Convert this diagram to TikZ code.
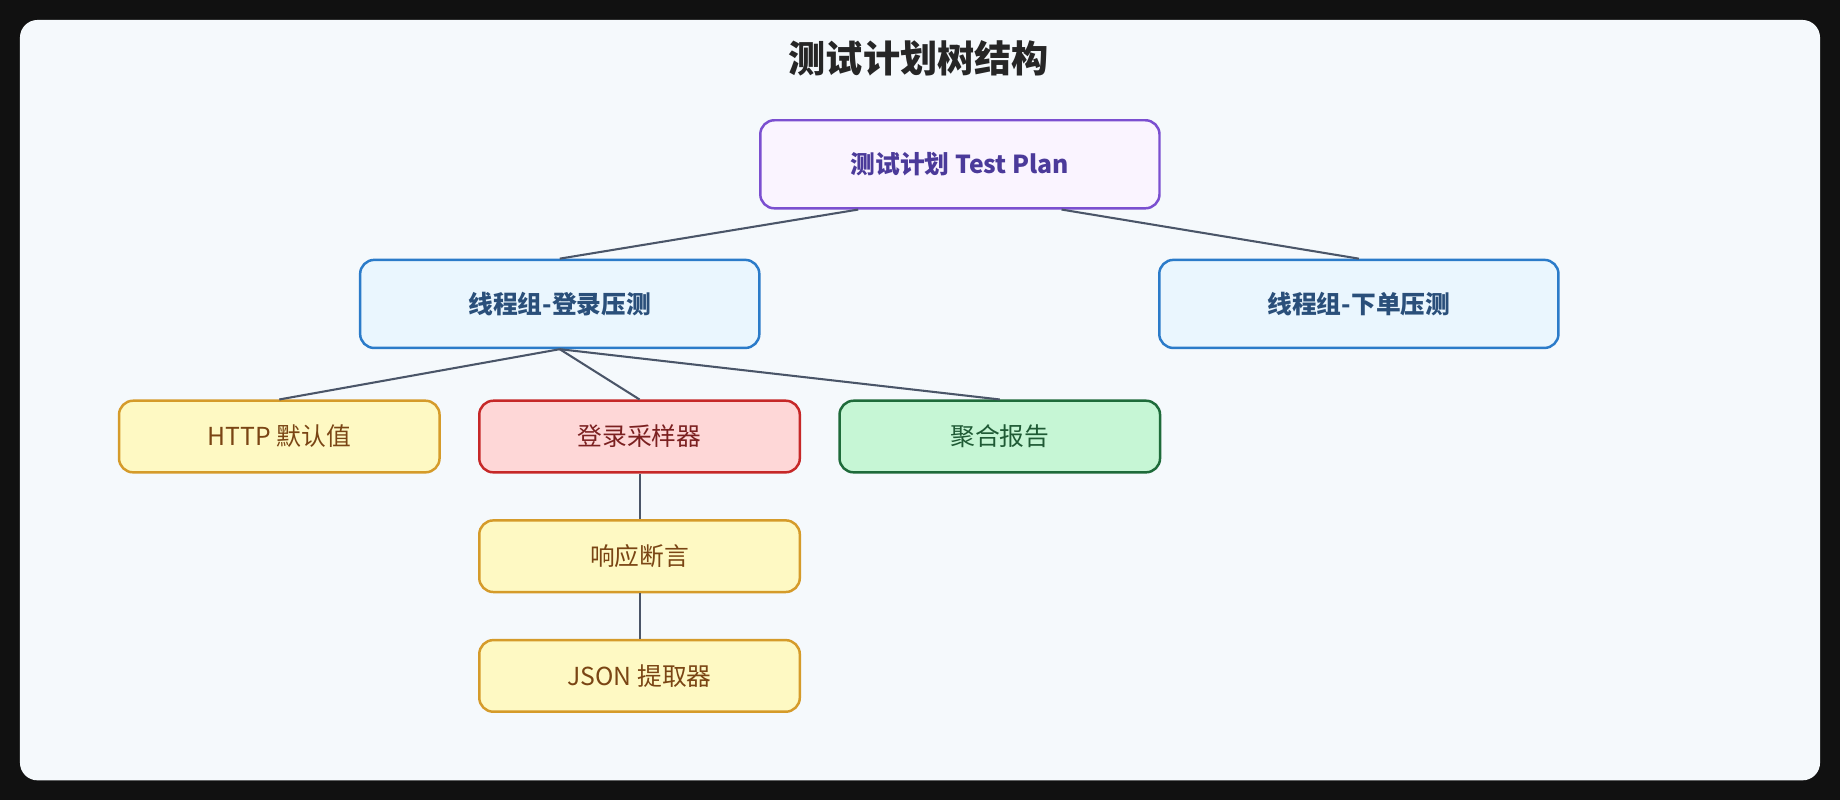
\documentclass[tikz,border=0pt]{standalone}
\usepackage{fontspec}
\setmainfont{Noto Sans CJK SC}
\usetikzlibrary{positioning}
\definecolor{pagebg}{HTML}{111111}
\definecolor{panelbg}{HTML}{F5F9FC}
\definecolor{edgegray}{HTML}{4A5568}
\definecolor{planfill}{HTML}{FAF4FF}
\definecolor{plandraw}{HTML}{7B4FD0}
\definecolor{plantext}{HTML}{4B3A9A}
\definecolor{groupfill}{HTML}{EAF6FE}
\definecolor{groupdraw}{HTML}{2B7BC9}
\definecolor{grouptext}{HTML}{2A4F7A}
\definecolor{cfgfill}{HTML}{FEF9C3}
\definecolor{cfgdraw}{HTML}{D59B2A}
\definecolor{cfgtext}{HTML}{7A4514}
\definecolor{smpfill}{HTML}{FED7D7}
\definecolor{smpdraw}{HTML}{C62828}
\definecolor{smptext}{HTML}{7B2020}
\definecolor{repfill}{HTML}{C6F6D5}
\definecolor{repdraw}{HTML}{1E6B3A}
\definecolor{reptext}{HTML}{1F5A35}
\tikzset{
  box/.style={draw, rounded corners=0.12cm, line width=0.6pt, inner sep=0pt, font=\fontsize{6}{7}\selectfont},
  plan/.style={box, minimum width=3.4cm, minimum height=0.75cm, fill=planfill, draw=plandraw, text=plantext, font=\fontsize{6}{7}\selectfont\bfseries},
  group/.style={box, minimum width=3.4cm, minimum height=0.75cm, fill=groupfill, draw=groupdraw, text=grouptext, font=\fontsize{6}{7}\selectfont\bfseries},
  leaf/.style={box, minimum width=2.73cm, minimum height=0.61cm},
  cfg/.style={leaf, fill=cfgfill, draw=cfgdraw, text=cfgtext},
  smp/.style={leaf, fill=smpfill, draw=smpdraw, text=smptext},
  rep/.style={leaf, fill=repfill, draw=repdraw, text=reptext},
  link/.style={draw=edgegray, line width=0.5pt}
}
\begin{document}
\begin{tikzpicture}[x=0.01cm, y=-0.01cm]
\fill[pagebg] (0,0) rectangle (1568,682);
\fill[panelbg] [rounded corners=0.15cm] (17,17) rectangle (1551,665);
\node[font=\fontsize{9}{10}\selectfont\bfseries, text=black!85] (title) at (783,50) {测试计划树结构};

% tree
\node[plan] (plan) at (818,140) {测试计划 Test Plan};
\node[group] (login group) at (477,259) {线程组-登录压测};
\node[group] (order group) at (1158,259) {线程组-下单压测};
\node[cfg] (http) at (238,372) {HTTP 默认值};
\node[smp] (sampler) at (545,372) {登录采样器};
\node[rep] (report) at (852,372) {聚合报告};
\node[cfg] (assert) at (545,474) {响应断言};
\node[cfg] (json) at (545,576) {JSON 提取器};

\draw[link] (plan.204) -- (login group.north);
\draw[link] (plan.336) -- (order group.north);
\draw[link] (login group.south) -- (http.north);
\draw[link] (login group.south) -- (sampler.north);
\draw[link] (login group.south) -- (report.north);
\draw[link] (sampler) -- (assert);
\draw[link] (assert) -- (json);
\end{tikzpicture}
\end{document}
